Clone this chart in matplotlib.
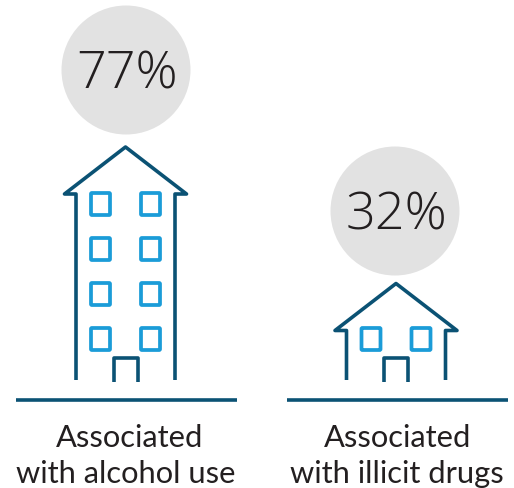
import matplotlib
matplotlib.use('Agg')
import matplotlib.pyplot as plt
from matplotlib.patches import Circle, FancyBboxPatch

# values and labels for the two groups
values = [77, 32]
label_top = ['Associated', 'Associated']
label_bottom = ['with alcohol use', 'with illicit drugs']

centers = [125.5, 396]
circle_centers = [(126, 71), (395, 212)]
floor_rows = [[205, 250, 295, 340], [340]]
eaves = [195, 331.5]
top_label_x = [129.5, 397.5]
bottom_label_x = [125.5, 397]

DARK = '#0b5274'
LIGHT = '#1b9cd8'
GREY = '#e2e2e2'
TEXT = '#231f20'

fig = plt.figure(figsize=(5.14, 4.89), dpi=100)
ax = fig.add_axes([0, 0, 1, 1])
ax.set_xlim(0, 514)
ax.set_ylim(489, 0)
ax.axis('off')


def draw_house(cx, rows, eave_y, ax):
    apex_y = eave_y - 47
    lw = 2.6
    ax.plot([cx - 49.5, cx - 49.5, cx - 61, cx, cx + 61, cx + 49.5, cx + 49.5],
            [381, eave_y, eave_y, apex_y, eave_y, eave_y, 381],
            color=DARK, lw=lw, solid_joinstyle='round', solid_capstyle='butt')
    # door
    ax.plot([cx - 12, cx - 12, cx + 12, cx + 12], [383, 359, 359, 383],
            color=DARK, lw=lw, solid_joinstyle='round', solid_capstyle='butt')
    # ground line
    ax.plot([cx - 109.5, cx + 111.5], [400.5, 400.5], color=DARK, lw=2.6, solid_capstyle='butt')
    # windows
    for y in rows:
        for dx in (-25, 25):
            ax.add_patch(FancyBboxPatch((cx + dx - 9.5, y - 11), 19, 22,
                                        boxstyle='round,pad=0,rounding_size=1',
                                        fc='none', ec=LIGHT, lw=2.7))


for i in range(len(values)):
    ax.add_patch(Circle(circle_centers[i], 64.5, fc=GREY, ec='none'))
    ax.text(circle_centers[i][0] + 1.5, circle_centers[i][1] + 4, f'{values[i]}%',
            family='Open Sans', weight='light', fontsize=37.5, color=TEXT,
            ha='center', va='center')
    draw_house(centers[i], floor_rows[i], eaves[i], ax)
    ax.text(top_label_x[i], 438, label_top[i], family='Lato', fontsize=22.2, color=TEXT,
            ha='center', va='center')
    ax.text(bottom_label_x[i], 474, label_bottom[i], family='Lato', fontsize=22.2, color=TEXT,
            ha='center', va='center')

fig.savefig('out.png', dpi=100)
